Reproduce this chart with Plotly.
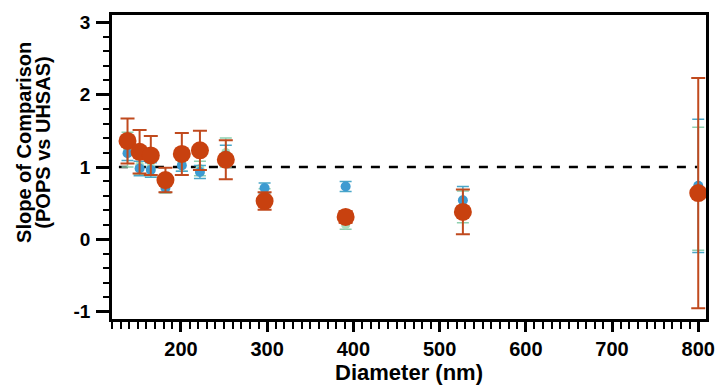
import plotly.graph_objects as go

diameter = [138, 152, 165, 182, 201, 222, 252, 297, 391, 527, 800]

green_y = [1.24, 1.02, 1.00, 0.72, 1.06, 0.98, 1.20, 0.62, 0.20, 0.45, 0.70]
green_err = [0.24, 0.12, 0.12, 0.08, 0.12, 0.10, 0.20, 0.08, 0.06, 0.22, 0.85]

blue_y = [1.19, 0.98, 0.96, 0.71, 1.02, 0.93, 1.16, 0.71, 0.73, 0.54, 0.74]
blue_err = [0.10, 0.10, 0.10, 0.06, 0.08, 0.09, 0.14, 0.07, 0.07, 0.19, 0.92]

red_y = [1.36, 1.21, 1.16, 0.82, 1.18, 1.23, 1.10, 0.53, 0.31, 0.38, 0.64]
red_err = [0.31, 0.30, 0.27, 0.17, 0.29, 0.27, 0.27, 0.12, 0.08, 0.31, 1.59]

ref_x = [128, 800]
ref_y = [1, 1]

x_ticks = [200, 300, 400, 500, 600, 700, 800]
y_ticks = [-1, 0, 1, 2, 3]
y_title_lines = ["Slope of Comparison", "(POPS vs UHSAS)"]
x_title = "Diameter (nm)"

W, H = 727, 391
ML, MR, MT, MB = 112, 12, 14, 72
PW, PH = W - ML - MR, H - MT - MB

fig = go.Figure()
fig.add_trace(go.Scatter(x=ref_x, y=ref_y, mode="lines",
                         line=dict(color="black", width=2.5, dash="dash"),
                         showlegend=False, hoverinfo="skip"))
fig.add_trace(go.Scatter(x=diameter, y=green_y, mode="markers",
                         marker=dict(color="#a9dfbc", size=9),
                         error_y=dict(type="data", array=green_err, color="#8fd0b0",
                                      thickness=1.5, width=6),
                         showlegend=False))
fig.add_trace(go.Scatter(x=diameter, y=blue_y, mode="markers",
                         marker=dict(color="#3d9bd1", size=10),
                         error_y=dict(type="data", array=blue_err, color="#4aa6c8",
                                      thickness=1.5, width=6),
                         showlegend=False))
fig.add_trace(go.Scatter(x=diameter, y=red_y, mode="markers",
                         marker=dict(color="#c8410f", size=18),
                         error_y=dict(type="data", array=red_err, color="#c04a1e",
                                      thickness=2, width=7),
                         showlegend=False))

for i, line in enumerate(y_title_lines):
    fig.add_annotation(text="<b>%s</b>" % line, textangle=-90,
                       xref="paper", yref="paper",
                       x=(22 + 20 * i - ML) / PW, y=(H - MB - 142) / PH,
                       xanchor="center", yanchor="middle", showarrow=False,
                       font=dict(size=20, color="black"))

font_main = "Liberation Sans, Arial, sans-serif"
fig.update_layout(
    width=W, height=H,
    margin=dict(l=ML, r=MR, t=MT, b=MB),
    paper_bgcolor="white", plot_bgcolor="white",
    font=dict(family=font_main, color="black", size=16),
    xaxis=dict(
        range=[120, 809], tickmode="array", tickvals=x_ticks,
        ticktext=["<b>%d</b>" % v for v in x_ticks],
        ticks="outside", ticklen=10, tickwidth=2.5, tickcolor="black",
        minor=dict(dtick=10, tick0=0, ticks="outside", ticklen=7, tickwidth=2, tickcolor="black"),
        showline=True, linewidth=2.5, linecolor="black", mirror=True,
        showgrid=False, zeroline=False,
        title=dict(text="<b>%s</b>" % x_title, font=dict(size=22), standoff=0),
        tickfont=dict(size=20),
    ),
    yaxis=dict(
        range=[-1.1, 3.1], tickmode="array", tickvals=y_ticks,
        ticktext=["<b>%d</b>" % v for v in y_ticks],
        ticks="outside", ticklen=13, tickwidth=2.5, tickcolor="black",
        minor=dict(dtick=0.2, tick0=0, ticks="outside", ticklen=6, tickwidth=2, tickcolor="black"),
        showline=True, linewidth=2.5, linecolor="black", mirror=True,
        showgrid=False, zeroline=False,
        tickfont=dict(size=19),
        ticklabelstandoff=2,
    ),
)

fig.write_html("out.html")
